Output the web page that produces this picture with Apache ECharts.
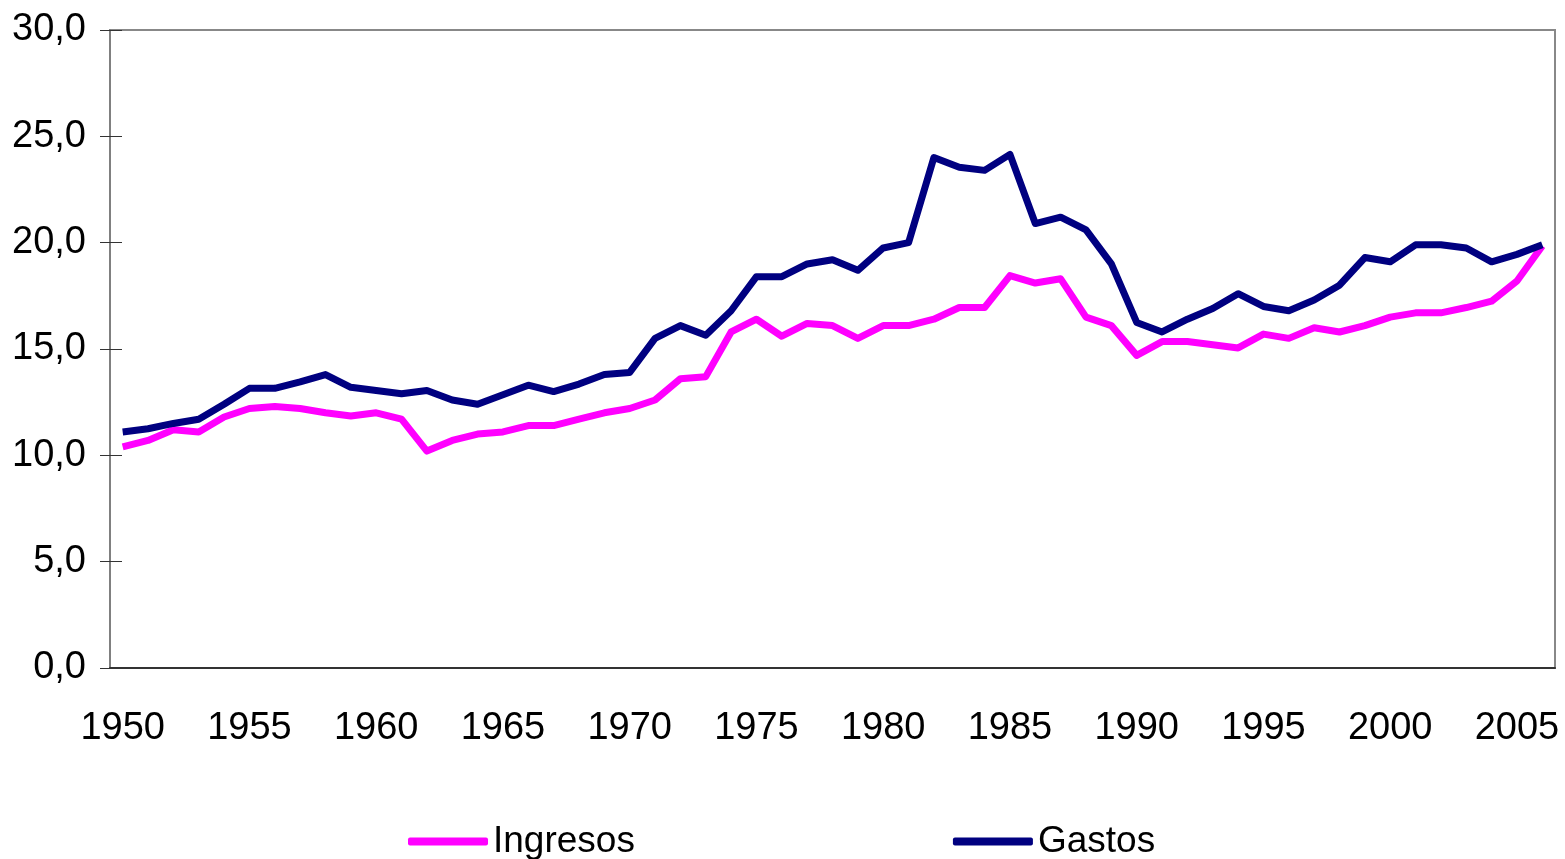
<!DOCTYPE html>
<html>
<head>
<meta charset="utf-8">
<title>Ingresos y Gastos</title>
<script src="https://cdn.jsdelivr.net/npm/echarts@6/dist/echarts.min.js"></script>
<style>
  html, body { margin: 0; padding: 0; background: #fff; }
  #chart { width: 1565px; height: 859px; }
</style>
</head>
<body>
<div id="chart"></div>
<script>
// años 1950 - 2006
const years = []
for (let y = 1950; y <= 2006; y++) years.push(String(y))

const ingresos = [
  10.4, 10.7, 11.2, 11.1, 11.8, 12.2, 12.3, 12.2, 12.0, 11.85,
  12.0, 11.7, 10.2, 10.7, 11.0, 11.1, 11.4, 11.4, 11.7, 12.0,
  12.2, 12.6, 13.6, 13.7, 15.8, 16.4, 15.6, 16.2, 16.1, 15.5,
  16.1, 16.1, 16.4, 16.95, 16.95, 18.45, 18.1, 18.3, 16.5, 16.1,
  14.7, 15.35, 15.35, 15.2, 15.05, 15.7, 15.5, 16.0, 15.8, 16.1,
  16.5, 16.7, 16.7, 16.95, 17.25, 18.2, 19.85
]

const gastos = [
  11.1, 11.25, 11.5, 11.7, 12.4, 13.15, 13.15, 13.45, 13.8, 13.2,
  13.05, 12.9, 13.05, 12.6, 12.4, 12.85, 13.3, 13.0, 13.35, 13.8,
  13.9, 15.5, 16.1, 15.65, 16.8, 18.4, 18.4, 19.0, 19.2, 18.7,
  19.75, 20.0, 24.0, 23.55, 23.4, 24.15, 20.9, 21.2, 20.6, 19.0,
  16.25, 15.8, 16.4, 16.9, 17.6, 17.0, 16.8, 17.3, 18.0, 19.3,
  19.1, 19.9, 19.9, 19.75, 19.1, 19.45, 19.9
]

const font = 'Liberation Sans, Arial, sans-serif'
const everyFive = (i) => i % 5 === 0

const chart = echarts.init(document.getElementById('chart'))

const option = {
  backgroundColor: '#fff',
  animation: false,
  grid: {
    left: 110,
    right: 10,
    top: 30,
    bottom: 191,
    show: true,
    borderColor: '#888',
    borderWidth: 2,
    outerBoundsMode: 'none',
  },
  legend: {
    left: 403,
    top: 818,
    itemWidth: 80,
    itemHeight: 8,
    itemGap: 318,
    icon: 'roundRect',
    textStyle: { fontFamily: font, fontSize: 37, color: '#000' },
    data: ['Ingresos', 'Gastos'],
  },
  xAxis: [
    {
      type: 'category',
      data: years,
      boundaryGap: true,
      axisLine: { lineStyle: { color: '#333', width: 2 } },
      axisTick: { length: 12, interval: everyFive, lineStyle: { color: '#333', width: 1 } },
      axisLabel: {
        interval: everyFive,
        margin: 42,
        color: '#000',
        fontFamily: font,
        fontSize: 38,
      },
      splitLine: { show: false },
    },
    {
      // parte interior de las marcas del eje X
      type: 'category',
      data: years,
      position: 'top',
      offset: -638,
      boundaryGap: true,
      axisLine: { show: false },
      axisTick: { length: 10, interval: everyFive, lineStyle: { color: '#333', width: 1 } },
      axisLabel: { show: false },
      splitLine: { show: false },
    },
  ],
  yAxis: [
    {
      type: 'value',
      min: 0,
      max: 30,
      interval: 5,
      axisLine: { show: true, lineStyle: { color: '#808080', width: 2 } },
      axisTick: { show: true, length: 10, lineStyle: { color: '#333', width: 1 } },
      axisLabel: {
        margin: 24,
        color: '#000',
        fontFamily: font,
        fontSize: 38,
        formatter: (v) => v.toFixed(1).replace('.', ','),
      },
      splitLine: { show: false },
    },
    {
      // parte interior de las marcas del eje Y
      type: 'value',
      min: 0,
      max: 30,
      interval: 5,
      position: 'right',
      offset: -1445,
      axisLine: { show: false },
      axisTick: { show: true, length: 12, lineStyle: { color: '#333', width: 1 } },
      axisLabel: { show: false },
      splitLine: { show: false },
    },
  ],
  series: [
    {
      name: 'Ingresos',
      type: 'line',
      data: ingresos,
      symbol: 'none',
      color: '#ff00ff',
      lineStyle: { width: 7, color: '#ff00ff', join: 'round' },
    },
    {
      name: 'Gastos',
      type: 'line',
      data: gastos,
      symbol: 'none',
      color: '#000080',
      lineStyle: { width: 7, color: '#000080', join: 'round' },
    },
  ],
}

chart.setOption(option)
</script>
</body>
</html>
